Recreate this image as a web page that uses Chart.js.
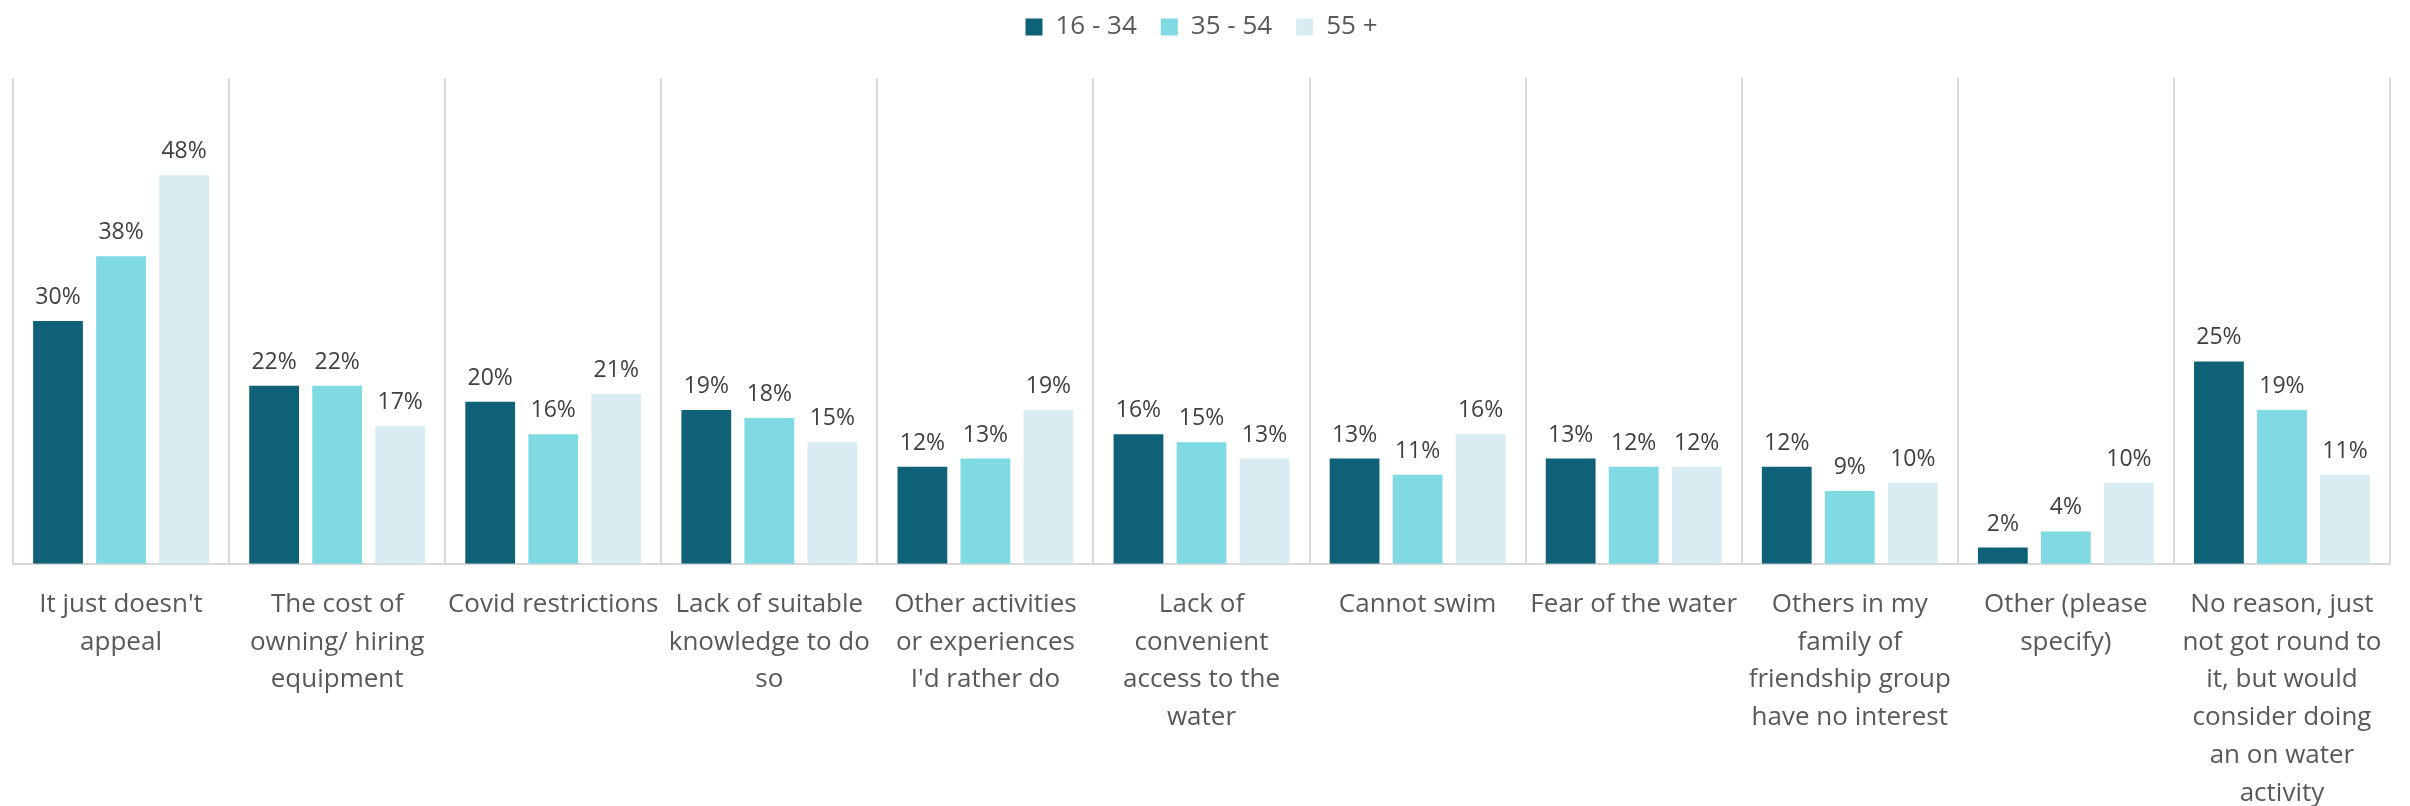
<!DOCTYPE html>
<html>
<head>
<meta charset="utf-8">
<script src="https://cdn.jsdelivr.net/npm/chart.js@4"></script>
<style>
  html, body { margin: 0; padding: 0; background: #fff; }
  #wrap { width: 2410px; height: 806px; position: relative; }
</style>
</head>
<body>
<div id="wrap"><canvas id="reasonsChart"></canvas></div>
<script>
const categories = [
  ["It just doesn't", "appeal"],
  ["The cost of", "owning/ hiring", "equipment"],
  ["Covid restrictions"],
  ["Lack of suitable", "knowledge to do", "so"],
  ["Other activities", "or experiences", "I'd rather do"],
  ["Lack of", "convenient", "access to the", "water"],
  ["Cannot swim"],
  ["Fear of the water"],
  ["Others in my", "family of", "friendship group", "have no interest"],
  ["Other (please", "specify)"],
  ["No reason, just", "not got round to", "it, but would", "consider doing", "an on water", "activity"]
];
const age16to34 = [30, 22, 20, 19, 12, 16, 13, 13, 12, 2, 25];
const age35to54 = [38, 22, 16, 18, 13, 15, 11, 12, 9, 4, 19];
const age55plus = [48, 17, 21, 15, 19, 13, 16, 12, 10, 10, 11];
const seriesNames = ["16 - 34", "35 - 54", "55 +"];
const colors = ["#0e6177", "#7fdae4", "#d8ecf1"];

const FONT = "'Open Sans', 'Noto Sans', sans-serif";

// percent labels above each bar
const valueLabels = {
  id: "valueLabels",
  afterDatasetsDraw(chart) {
    const ctx = chart.ctx;
    ctx.save();
    ctx.font = `23px ${FONT}`;
    ctx.fillStyle = "#404040";
    ctx.textAlign = "center";
    ctx.textBaseline = "alphabetic";
    chart.data.datasets.forEach((ds, i) => {
      chart.getDatasetMeta(i).data.forEach((bar, j) => {
        ctx.fillText(ds.data[j] + "%", bar.x, bar.y - 17);
      });
    });
    ctx.restore();
  }
};

// extra room under the legend row
const legendGap = {
  id: "legendGap",
  beforeInit(chart) {
    const fit = chart.legend.fit;
    chart.legend.fit = function () {
      fit.call(this);
      this.height += 28;
    };
  }
};

new Chart(document.getElementById("reasonsChart"), {
  type: "bar",
  data: {
    labels: categories,
    datasets: [age16to34, age35to54, age55plus].map((vals, i) => ({
      label: seriesNames[i],
      data: vals,
      backgroundColor: colors[i],
      borderWidth: 0,
      categoryPercentage: 0.875,
      barPercentage: 0.79
    }))
  },
  options: {
    responsive: true,
    maintainAspectRatio: false,
    animation: false,
    layout: { padding: { left: 13, right: 20, top: -10, bottom: -28 } },
    plugins: {
      legend: {
        position: "top",
        labels: {
          boxWidth: 17,
          boxHeight: 17,
          padding: 24,
          color: "#595959",
          font: { family: FONT, size: 26 }
        }
      },
      tooltip: { enabled: false }
    },
    scales: {
      x: {
        grid: { offset: true, color: "#d9d9d9", lineWidth: 2, drawTicks: false },
        border: { color: "#d9d9d9", width: 2 },
        ticks: {
          color: "#595959",
          font: { family: FONT, size: 26, lineHeight: 1.45 },
          padding: 22,
          maxRotation: 0,
          autoSkip: false
        }
      },
      y: {
        display: false,
        min: 0,
        max: 60
      }
    }
  },
  plugins: [valueLabels, legendGap]
});
</script>
</body>
</html>
